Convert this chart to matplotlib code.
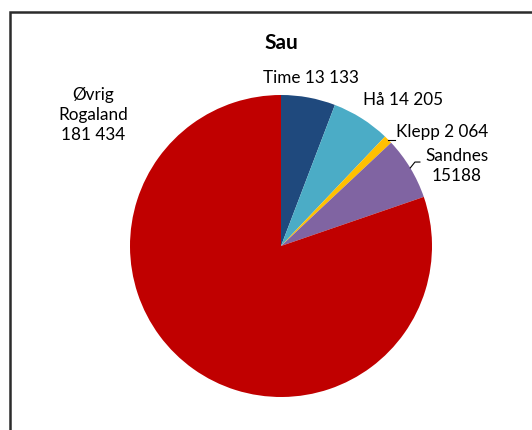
import matplotlib
matplotlib.use("Agg")
import matplotlib.pyplot as plt
from matplotlib.patches import Rectangle

TITLE = "Sau"
CATEGORIES = ["Time", "Hå", "Klepp", "Sandnes", "Øvrig Rogaland"]
VALUES = [13133, 14205, 2064, 15188, 181434]
LABELS = ["Time 13 133", "Hå 14 205", "Klepp 2 064", "Sandnes\n15188", "Øvrig\nRogaland\n181 434"]
COLORS = ["#1F497D", "#4BACC6", "#FFC000", "#8064A2", "#C00000"]

plt.rcParams["font.family"] = ["Lato", "DejaVu Sans"]

W, H = 532, 430
fig = plt.figure(figsize=(W / 100, H / 100), dpi=100)

# chart border (runs off the right and bottom edge like the source)
fig.patches.append(
    Rectangle((10 / W, -0.1), 1.2, (H - 12) / H + 0.1, transform=fig.transFigure,
              fill=False, edgecolor="#2b2b2b", linewidth=1.8)
)

# pie centre ~ (281, 246) px, radius ~ 151 px
cx, cy, r = 281, 246, 151
ax = fig.add_axes([(cx - r) / W, (H - cy - r) / H, 2 * r / W, 2 * r / H])
wedges, _ = ax.pie(VALUES, colors=COLORS, startangle=90, counterclock=False,
                   wedgeprops={"linewidth": 0})
ax.set_xlim(-1, 1)
ax.set_ylim(-1, 1)
ax.set_aspect("equal")
ax.axis("off")

fig.text(cx / W, 1 - 43 / H, TITLE, ha="center", va="center",
         fontsize=15, fontweight="bold")

fs = 12.3
# Time, Hå, Øvrig: plain labels
ax.text(0.20, 1.11, LABELS[0], ha="center", va="center", fontsize=fs, clip_on=False)
ax.text(0.81, 0.97, LABELS[1], ha="center", va="center", fontsize=fs, clip_on=False)
ax.text(-1.245, 0.868, LABELS[4], ha="center", va="center", fontsize=fs,
        linespacing=1.3, clip_on=False)

# Klepp with leader line
ax.plot([0.71, 0.755], [0.70, 0.70], color="black", lw=0.8, clip_on=False)
ax.text(0.76, 0.755, LABELS[2], ha="left", va="center", fontsize=fs, clip_on=False)

# Sandnes with leader line
ax.plot([0.856, 0.887, 0.92], [0.517, 0.556, 0.556], color="black", lw=0.8, clip_on=False)
ax.text(1.165, 0.53, LABELS[3], ha="center", va="center", fontsize=fs,
        linespacing=1.3, clip_on=False)

fig.savefig("out.png", dpi=100)
